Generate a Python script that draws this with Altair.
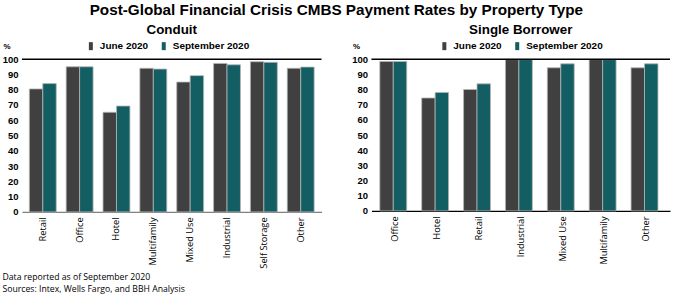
import altair as alt
import pandas as pd

periods = ["June 2020", "September 2020"]
colors = ["#404040", "#135e63"]

conduit_types = ["Retail", "Office", "Hotel", "Multifamily", "Mixed Use", "Industrial", "Self Storage", "Other"]
conduit_june = [80.5, 95.0, 65.2, 94.0, 85.0, 97.2, 98.3, 94.0]
conduit_sept = [84.0, 95.0, 69.3, 93.5, 89.2, 96.3, 97.9, 94.8]

sb_types = ["Office", "Hotel", "Retail", "Industrial", "Mixed Use", "Multifamily", "Other"]
sb_june = [98.5, 74.4, 80.0, 99.7, 94.3, 99.7, 94.3]
sb_sept = [98.5, 78.0, 83.7, 99.7, 96.9, 99.7, 96.9]

y_ticks = [0, 10, 20, 30, 40, 50, 60, 70, 80, 90, 100]
footnotes = ["Data reported as of September 2020", "Sources: Intex, Wells Fargo, and BBH Analysis"]


def long_df(types, june, sept):
    rows = []
    for t, j, s in zip(types, june, sept):
        rows.append({"type": t, "period": periods[0], "value": j})
        rows.append({"type": t, "period": periods[1], "value": s})
    return pd.DataFrame(rows)


SYMBOL = "M-0.5,-1H0.5V1H-0.5Z"


def y_axis():
    return alt.Axis(title="%", titleAngle=0, titleX=-19, titleY=-11,
                    titleAlign="left", titleBaseline="alphabetic", titleColor="#000000",
                    titleFontSize=8, titleFontWeight="bold", titleFont="Liberation Sans",
                    values=y_ticks, grid=False, domain=False, labelOverlap=False,
                    ticks=False, labelFontWeight="bold", labelFont="Liberation Sans",
                    labelFontSize=9.5, labelColor="#000000", labelPadding=4)


def panel(df, order, title, width, height, domain_color, legend_x, x_title=None):
    xaxis_kwargs = dict(
        labelAngle=-90, labelFont="Open Sans", labelFontSize=9.3, labelColor="#000000",
        ticks=False, domainColor=domain_color, domainWidth=1.2, labelPadding=5,
    )
    if x_title is not None:
        xaxis_kwargs.update(dict(
            title=x_title, titleFont="Open Sans", titleFontSize=8.7, titleFontWeight="normal",
            titleAnchor="start", titleAlign="left", titleBaseline="alphabetic",
            titleX=-20, titleY=68, titleLineHeight=11.5, titleColor="#000000",
        ))
    else:
        xaxis_kwargs["title"] = None

    yscale = alt.Scale(domain=[0, 100], nice=False)
    bars = alt.Chart(df).mark_bar(stroke="#b5b5b5", strokeWidth=0.8).encode(
        x=alt.X("type:N", sort=order,
                scale=alt.Scale(paddingInner=0.27, paddingOuter=0.2),
                axis=alt.Axis(**xaxis_kwargs)),
        xOffset=alt.XOffset("period:N", sort=periods),
        y=alt.Y("value:Q", scale=yscale, axis=y_axis()),
        color=alt.Color("period:N", scale=alt.Scale(domain=periods, range=colors),
                        legend=alt.Legend(title=None, orient="none", direction="horizontal",
                                          legendX=legend_x, legendY=-18,
                                          symbolType=SYMBOL, symbolSize=64,
                                          symbolStrokeWidth=0, labelFont="Liberation Sans",
                                          labelFontSize=10, labelFontWeight="bold",
                                          labelColor="#000000", columnPadding=10,
                                          symbolOffset=0, labelOffset=4)),
    )
    top = alt.Chart(pd.DataFrame({"value": [100]})).mark_rule(color="#000000", strokeWidth=1.5).encode(
        y=alt.Y("value:Q", scale=yscale, axis=y_axis())
    )
    return alt.layer(bars, top).properties(
        width=width, height=height,
        title=alt.TitleParams(title, fontSize=13.4, font="Liberation Sans", fontWeight="bold",
                              anchor="middle", offset=5, color="#000000"),
    )


left = panel(long_df(conduit_types, conduit_june, conduit_sept), conduit_types, "Conduit",
             300, 153, "#808080", 64, x_title=footnotes)
right = panel(long_df(sb_types, sb_june, sb_sept), sb_types, "Single Borrower",
              299, 152, "#000000", 68)

chart = alt.hconcat(left, right, spacing=29).resolve_scale(color="independent").resolve_legend(
    color="independent"
).properties(
    title=alt.TitleParams("Post-Global Financial Crisis CMBS Payment Rates by Property Type",
                          fontSize=15.3, font="Liberation Sans", fontWeight="bold",
                          anchor="middle", offset=4, color="#000000"),
    padding={"left": 2, "top": 3, "right": 2, "bottom": 1},
    background="#ffffff",
).configure_view(stroke=None)

chart.save("out.html", embed_options={"renderer": "svg", "actions": False})
